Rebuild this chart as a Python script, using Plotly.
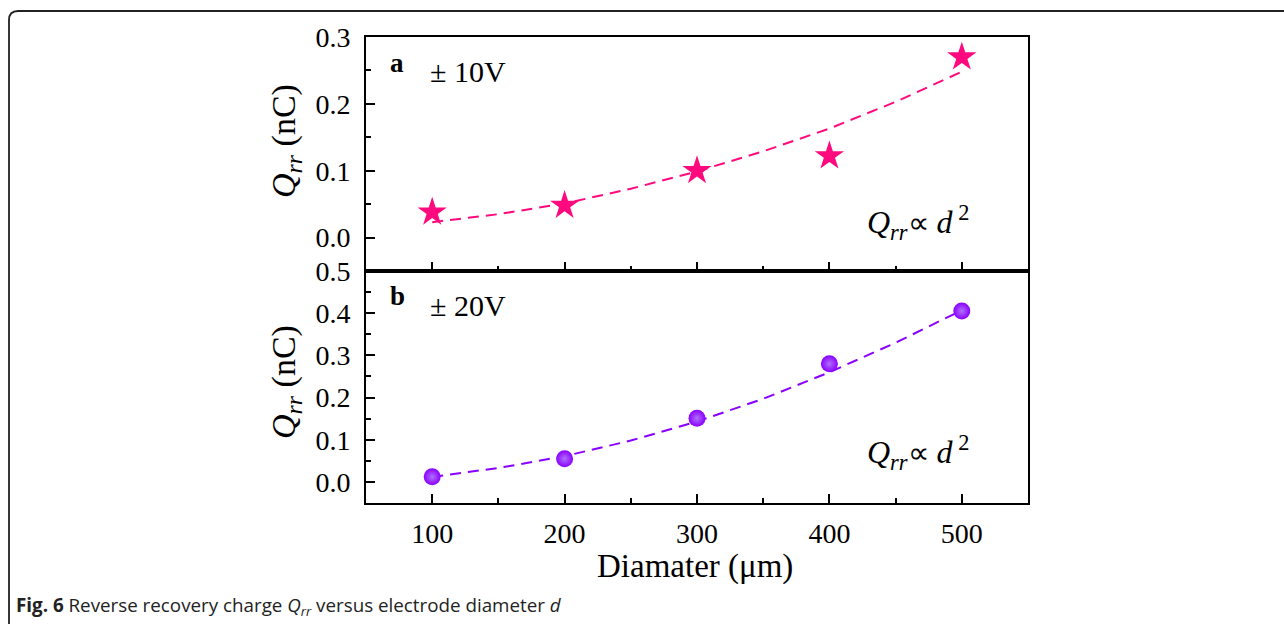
import plotly.graph_objects as go

# ---------------- data ----------------
diameter = [100, 200, 300, 400, 500]
qrr_10v = [0.038, 0.048, 0.100, 0.122, 0.270]
qrr_20v = [0.012, 0.055, 0.151, 0.280, 0.405]

fit_x = [100, 150, 200, 250, 300, 350, 400, 450, 500]
fit_10v = [0.023, 0.035, 0.051, 0.073, 0.099, 0.129, 0.163, 0.203, 0.248]
fit_20v = [0.012, 0.033, 0.061, 0.098, 0.143, 0.197, 0.260, 0.330, 0.407]

x_ticks = [100, 200, 300, 400, 500]

PINK = "#FF0A7E"
PURPLE = "#8A00FF"

# ---------------- geometry (pixels) ----------------
W, H = 1284, 624
L, R, T, B = 366, 1028, 37, 503
SPLIT = 271


def px(x):
    return (x - L) / (R - L)


def py(y):
    return (B - y) / (B - T)


split_frac = py(SPLIT)

fig = go.Figure()

# top panel (a)
fig.add_trace(go.Scatter(x=fit_x, y=fit_10v, mode="lines",
                         line=dict(color=PINK, width=2, dash="11px,7px"),
                         xaxis="x2", yaxis="y2", showlegend=False, hoverinfo="skip"))
fig.add_trace(go.Scatter(x=diameter, y=qrr_10v, mode="markers",
                         marker=dict(symbol="star", size=22, color=PINK, line=dict(width=0)),
                         xaxis="x2", yaxis="y2", showlegend=False))

# bottom panel (b)
fig.add_trace(go.Scatter(x=fit_x, y=fit_20v, mode="lines",
                         line=dict(color=PURPLE, width=2, dash="11px,7px"),
                         xaxis="x", yaxis="y", showlegend=False, hoverinfo="skip"))
fig.add_trace(go.Scatter(x=diameter, y=qrr_20v, mode="markers",
                         marker=dict(symbol="circle", size=17, color=PURPLE,
                                     gradient=dict(type="radial", color="#B070FF"),
                                     line=dict(width=0)),
                         xaxis="x", yaxis="y", showlegend=False))

FONT = "Liberation Serif"
tickfont = dict(family=FONT, size=28, color="black")

common_axis = dict(showline=True, linecolor="black", linewidth=1.6, mirror=True,
                   showgrid=False, zeroline=False, ticks="inside", tickcolor="black",
                   tickwidth=1.5)

fig.update_layout(
    width=W, height=H,
    margin=dict(l=L, r=W - R, t=T, b=H - B),
    paper_bgcolor="white", plot_bgcolor="white",
    xaxis=dict(range=[50, 550], domain=[0, 1], anchor="y", tickvals=x_ticks,
               ticklen=9, tickfont=tickfont, ticklabelstandoff=5,
               minor=dict(ticks="inside", ticklen=5, dtick=50, tick0=0,
                          tickcolor="black", tickwidth=1.5, showgrid=False),
               **common_axis),
    xaxis2=dict(range=[50, 550], domain=[0, 1], anchor="y2", matches="x",
                tickvals=x_ticks, ticklen=9, showticklabels=False,
                minor=dict(ticks="inside", ticklen=5, dtick=50, tick0=0,
                           tickcolor="black", tickwidth=1.5, showgrid=False),
                **common_axis),
    yaxis=dict(range=[-0.05, 0.5], domain=[0, split_frac], anchor="x",
               dtick=0.1, tick0=0, tickformat=".1f", ticklen=9, tickfont=tickfont,
               ticklabelstandoff=8,
               minor=dict(ticks="inside", ticklen=5, dtick=0.05, tick0=0,
                          tickcolor="black", tickwidth=1.5, showgrid=False),
               **common_axis),
    yaxis2=dict(range=[-0.05, 0.3], domain=[split_frac, 1], anchor="x2",
                dtick=0.1, tick0=0, tickformat=".1f", ticklen=9, tickfont=tickfont,
                ticklabelstandoff=8,
                minor=dict(ticks="inside", ticklen=5, dtick=0.05, tick0=0,
                           tickcolor="black", tickwidth=1.5, showgrid=False),
                **common_axis),
)

ann = []
ytitle = "<i>Q</i><sub><i>rr</i></sub> (nC)"
for yc in (141, 382):
    ann.append(dict(text=ytitle, xref="paper", yref="paper", x=px(286), y=py(yc),
                    xanchor="center", yanchor="middle", textangle=-90, showarrow=False,
                    font=dict(family=FONT, size=34, color="black")))

ann.append(dict(text="Diamater (μm)", xref="paper", yref="paper", x=px(695), y=py(566),
                xanchor="center", yanchor="middle", showarrow=False,
                font=dict(family=FONT, size=33, color="black")))

for label, volt, yc in (("a", "± 10V", 63), ("b", "± 20V", 296)):
    ann.append(dict(text="<b>%s</b>" % label, xref="paper", yref="paper", x=px(388), y=py(yc),
                    xanchor="left", yanchor="middle", showarrow=False,
                    font=dict(family=FONT, size=27, color="black")))
    ann.append(dict(text=volt, xref="paper", yref="paper", x=px(428), y=py(yc + 9),
                    xanchor="left", yanchor="middle", showarrow=False,
                    font=dict(family=FONT, size=30, color="black")))

law = "<i>Q</i><sub><i>rr</i></sub><span style='font-size:30px'>∝</span> <i>d</i><sup> 2</sup>"
for yc in (222, 452):
    ann.append(dict(text=law, xref="paper", yref="paper", x=px(865), y=py(yc),
                    xanchor="left", yanchor="middle", showarrow=False,
                    font=dict(family=FONT, size=32, color="black")))

caption = ("<b>Fig. 6</b> Reverse recovery charge <i>Q</i><sub><i>rr</i></sub> "
           "versus electrode diameter <i>d</i>")
ann.append(dict(text=caption, xref="paper", yref="paper", x=px(14), y=py(606),
                xanchor="left", yanchor="middle", showarrow=False,
                font=dict(family="Open Sans", size=18.8, color="#222")))

fig.update_layout(annotations=ann)

# rounded outer frame
r = 9
x0, y0 = 9, 11
path = ("M %f,%f L %f,%f Q %f,%f %f,%f L %f,%f" % (
    px(x0), py(H + 20), px(x0), py(y0 + r), px(x0), py(y0), px(x0 + r), py(y0),
    px(W + 20), py(y0)))
fig.add_shape(type="path", path=path, xref="paper", yref="paper",
              line=dict(color="#222", width=1.8), layer="above")

fig.write_html("out.html")
